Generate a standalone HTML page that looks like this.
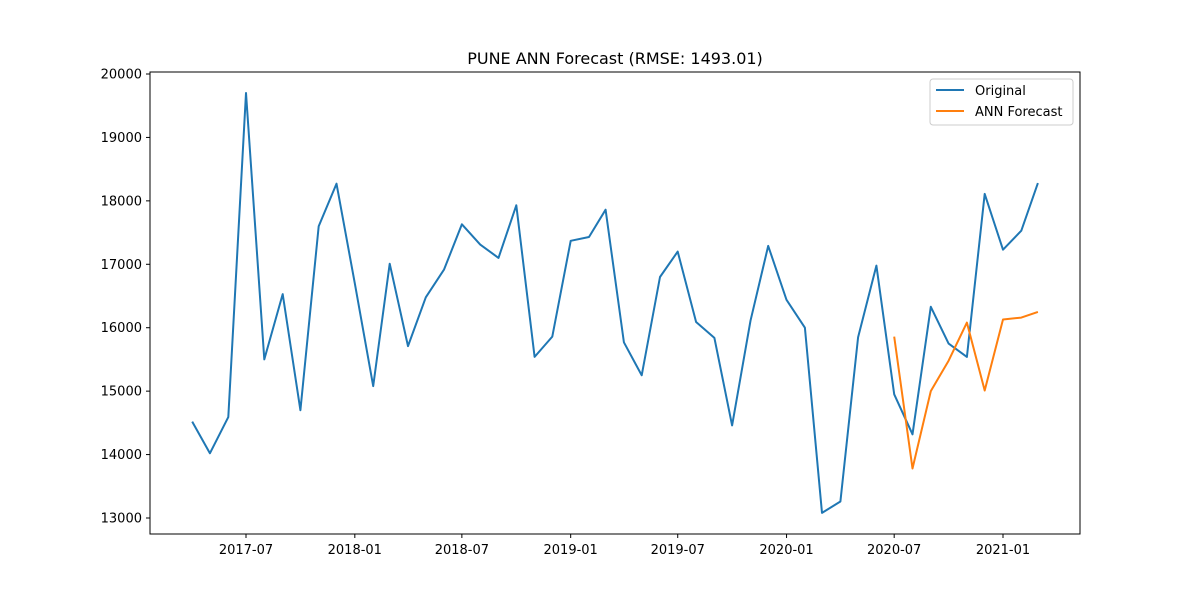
<!DOCTYPE html>
<html><head><meta charset="utf-8"><style>
body{margin:0;background:#fff;font-family:"Liberation Sans","DejaVu Sans",sans-serif}
</style></head><body>
<svg id="chart" width="1200" height="600" xmlns="http://www.w3.org/2000/svg" font-family="DejaVu Sans, Liberation Sans, sans-serif">
<rect width="1200" height="600" fill="#fff"/>
<text x="615" y="64" font-size="16" text-anchor="middle">PUNE ANN Forecast (RMSE: 1493.01)</text>
<g id="axes"></g>
<g id="series"></g>
<g>
<rect x="930" y="79" width="143" height="46" fill="#fff" stroke="#ccc" rx="3"/>
<line x1="936" y1="90" x2="964" y2="90" stroke="#1f77b4" stroke-width="2"/>
<text x="975" y="95" font-size="13">Original</text>
<line x1="936" y1="111" x2="964" y2="111" stroke="#ff7f0e" stroke-width="2"/>
<text x="975" y="116" font-size="13">ANN Forecast</text>
</g>
</svg>
<script>
const startMonth = [2017, 4];
const originalValues = [14520,14020,14590,19700,15500,16530,14700,17600,18270,16700,15080,17010,15710,16480,16920,17630,17310,17100,17930,15540,15860,17370,17430,17860,15770,15250,16800,17200,16090,15840,14460,16110,17290,16440,16000,13080,13260,15850,16980,14950,14320,16330,15750,15540,18110,17230,17530,18280];
const forecastStart = [2020, 7];
const forecastValues = [15860,13780,15000,15480,16080,15010,16130,16160,16250];
const yTicks = [13000,14000,15000,16000,17000,18000,19000,20000];
const xTickLabels = ["2017-07","2018-01","2018-07","2019-01","2019-07","2020-01","2020-07","2021-01"];

const NS="http://www.w3.org/2000/svg";
const L=150,R=1080,T=72,B=534;
const day=864e5;
const t0=Date.UTC(2017,6,1), t1=Date.UTC(2021,0,1);
const pxPerDay=(1003-246)/((t1-t0)/day);
function xs(t){return 246+(t-t0)/day*pxPerDay;}
function ys(v){return 518-(v-13000)*(518-74)/7000;}
function monthT(y,m,i){return Date.UTC(y,m-1+i,1);}
function mk(tag,attrs,parent){const e=document.createElementNS(NS,tag);for(const k in attrs)e.setAttribute(k,attrs[k]);parent.appendChild(e);return e;}
const axes=document.getElementById('axes'), ser=document.getElementById('series');
const frame=mk('rect',{x:L,y:T,width:R-L,height:B-T,fill:'none',stroke:'#000','stroke-width':1},axes);


yTicks.forEach(v=>{
  const y=ys(v);
  mk('line',{x1:L-4,x2:L,y1:y,y2:y,stroke:'#000'},axes);
  const t=mk('text',{x:L-8,y:y+4.5,'font-size':13,'text-anchor':'end'},axes);
  t.textContent=v;
  
  
});
xTickLabels.forEach(s=>{
  const [yy,mm]=s.split('-').map(Number);
  const x=xs(Date.UTC(yy,mm-1,1));
  mk('line',{x1:x,x2:x,y1:B,y2:B+4,stroke:'#000'},axes);
  const t=mk('text',{x:x,y:B+20,'font-size':13,'text-anchor':'middle'},axes);
  t.textContent=s;
  
  
});
function line(vals,start,color,name){
  const pts=vals.map((v,i)=>xs(monthT(start[0],start[1],i)).toFixed(1)+','+ys(v).toFixed(1)).join(' ');
  const p=mk('polyline',{points:pts,fill:'none',stroke:color,'stroke-width':2,'stroke-linejoin':'round'},ser);
  
  
}
line(originalValues,startMonth,'#1f77b4','original-line');
line(forecastValues,forecastStart,'#ff7f0e','forecast-line');
</script>
</body></html>
